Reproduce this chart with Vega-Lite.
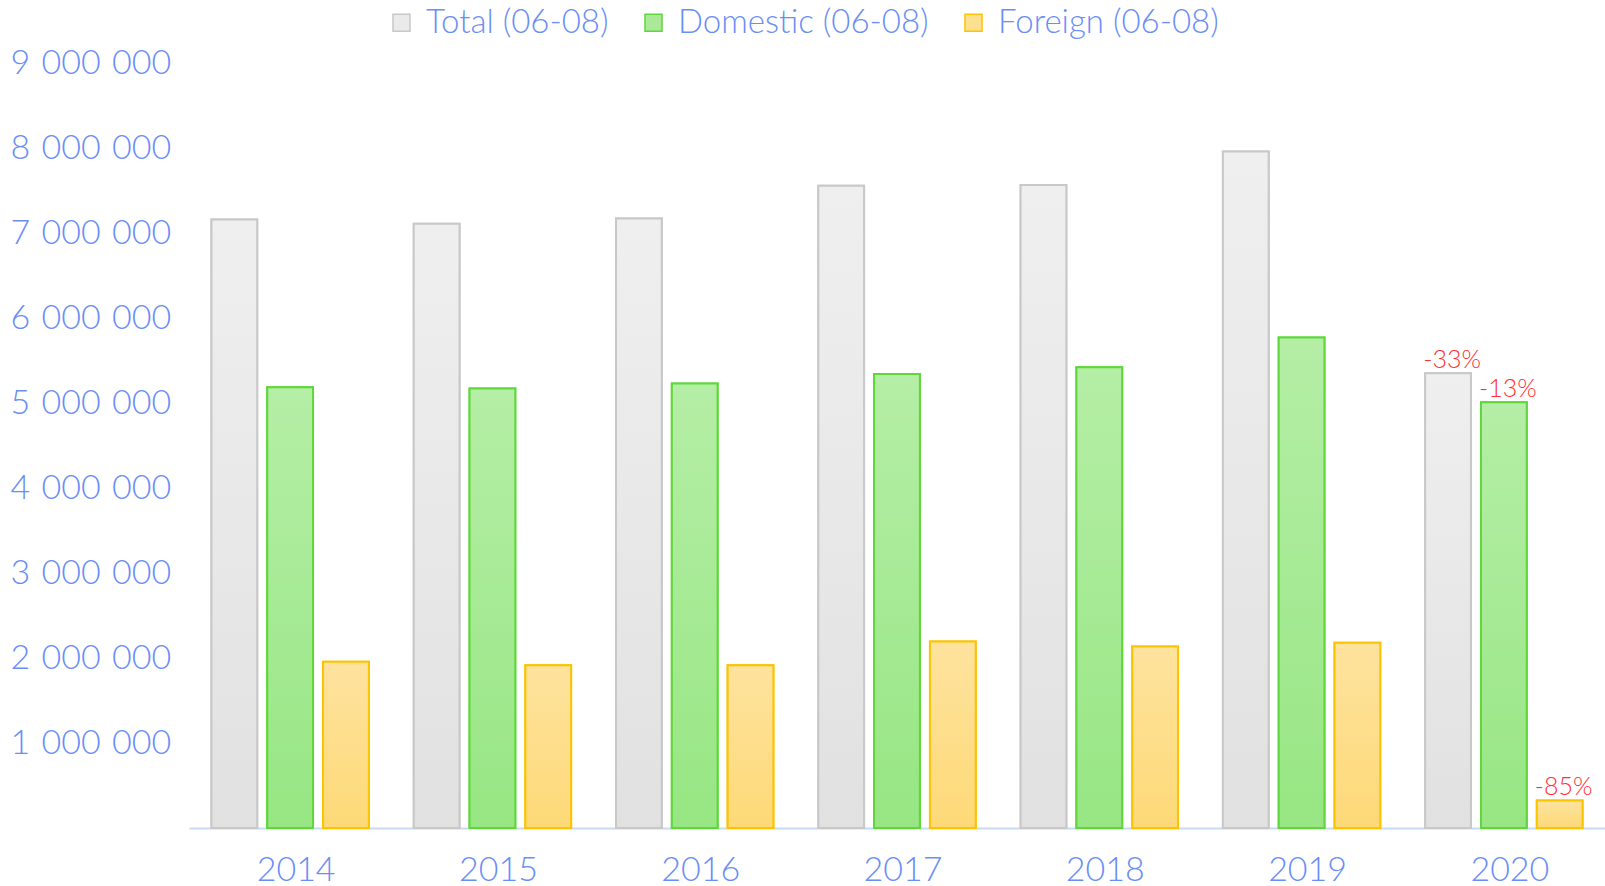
{
  "$schema": "https://vega.github.io/schema/vega-lite/v6.json",
  "width": 1416,
  "height": 765,
  "autosize": {"type": "none"},
  "padding": {"left": 189, "top": 63, "right": 0, "bottom": 58},
  "background": "white",
  "config": {"view": {"stroke": null}, "font": "Lato"},
  "datasets": {
    "bars": [
      {"year": "2014", "series": "Total (06-08)", "value": 7160000},
      {"year": "2014", "series": "Domestic (06-08)", "value": 5185000},
      {"year": "2014", "series": "Foreign (06-08)", "value": 1955000},
      {"year": "2015", "series": "Total (06-08)", "value": 7110000},
      {"year": "2015", "series": "Domestic (06-08)", "value": 5170000},
      {"year": "2015", "series": "Foreign (06-08)", "value": 1915000},
      {"year": "2016", "series": "Total (06-08)", "value": 7170000},
      {"year": "2016", "series": "Domestic (06-08)", "value": 5230000},
      {"year": "2016", "series": "Foreign (06-08)", "value": 1915000},
      {"year": "2017", "series": "Total (06-08)", "value": 7555000},
      {"year": "2017", "series": "Domestic (06-08)", "value": 5340000},
      {"year": "2017", "series": "Foreign (06-08)", "value": 2195000},
      {"year": "2018", "series": "Total (06-08)", "value": 7565000},
      {"year": "2018", "series": "Domestic (06-08)", "value": 5420000},
      {"year": "2018", "series": "Foreign (06-08)", "value": 2135000},
      {"year": "2019", "series": "Total (06-08)", "value": 7960000},
      {"year": "2019", "series": "Domestic (06-08)", "value": 5770000},
      {"year": "2019", "series": "Foreign (06-08)", "value": 2180000},
      {"year": "2020", "series": "Total (06-08)", "value": 5350000},
      {"year": "2020", "series": "Domestic (06-08)", "value": 5010000},
      {"year": "2020", "series": "Foreign (06-08)", "value": 325000}
    ],
    "labels": [
      {"year": "2020", "series": "Total (06-08)", "value": 5350000, "label": "-33%"},
      {"year": "2020", "series": "Domestic (06-08)", "value": 5010000, "label": "-13%"},
      {"year": "2020", "series": "Foreign (06-08)", "value": 325000, "label": "-85%"}
    ]
  },
  "data": {"name": "bars"},
  "encoding": {
    "x": {
      "field": "year", "type": "nominal",
      "scale": {"paddingInner": 0.222, "paddingOuter": 0.111},
      "axis": {
        "title": null, "labelAngle": 0, "ticks": false, "tickSize": 0,
        "domain": true, "domainColor": "#c9daf6", "domainWidth": 2,
        "labelFont": "Lato", "labelFontWeight": 300, "labelFontSize": 34,
        "labelColor": "#6a8ef6", "labelBaseline": "alphabetic", "labelPadding": 52,
        "labelOffset": 6, "grid": false
      }
    },
    "xOffset": {
      "field": "series", "type": "nominal",
      "scale": {"domain": ["Total (06-08)", "Domestic (06-08)", "Foreign (06-08)"], "paddingInner": 0.18, "paddingOuter": 0}
    },
    "y": {
      "field": "value", "type": "quantitative",
      "scale": {"domain": [0, 9000000], "nice": false, "zero": true},
      "axis": {
        "title": null, "grid": false, "domain": false, "ticks": false, "tickSize": 0,
        "values": [1000000, 2000000, 3000000, 4000000, 5000000, 6000000, 7000000, 8000000, 9000000],
        "labelExpr": "replace(replace(format(datum.value, ','), ',', '\u2004'), ',', '\u2004')",
        "labelAlign": "left", "labelPadding": 179, "labelBaseline": "middle",
        "labelFont": "Lato", "labelFontWeight": 300, "labelFontSize": 34, "labelColor": "#6a8ef6"
      }
    }
  },
  "layer": [
    {
      "mark": {"type": "bar", "strokeWidth": 2},
      "encoding": {
        "fill": {
          "field": "series", "type": "nominal",
          "scale": {"domain": ["Total (06-08)", "Domestic (06-08)", "Foreign (06-08)"], "range": ["#eaeaea", "#a9e998", "#fde08f"]},
          "legend": {
            "title": null, "orient": "none", "direction": "horizontal",
            "legendX": 196, "legendY": -57,
            "symbolType": "square", "symbolSize": 290, "symbolStrokeWidth": 1.5,
            "labelFont": "Lato", "labelFontWeight": 300, "labelFontSize": 33, "labelColor": "#6a8ef6",
            "labelLimit": 500, "labelOffset": 8, "columnPadding": 28, "symbolOpacity": 1
          }
        },
        "stroke": {
          "field": "series", "type": "nominal",
          "scale": {"domain": ["Total (06-08)", "Domestic (06-08)", "Foreign (06-08)"], "range": ["#c8c8c8", "#5fd73a", "#fbc300"]}
        }
      }
    },
    {
      "transform": [{"filter": "datum.series === 'Total (06-08)'"}],
      "mark": {
        "type": "bar", "strokeWidth": 2, "stroke": "#c8c8c8",
        "fill": {"gradient": "linear", "x1": 0, "y1": 0, "x2": 0, "y2": 1, "stops": [{"offset": 0, "color": "#efefef"}, {"offset": 1, "color": "#e1e1e1"}]}
      }
    },
    {
      "transform": [{"filter": "datum.series === 'Domestic (06-08)'"}],
      "mark": {
        "type": "bar", "strokeWidth": 2, "stroke": "#5fd73a",
        "fill": {"gradient": "linear", "x1": 0, "y1": 0, "x2": 0, "y2": 1, "stops": [{"offset": 0, "color": "#b5eea6"}, {"offset": 1, "color": "#97e683"}]}
      }
    },
    {
      "transform": [{"filter": "datum.series === 'Foreign (06-08)'"}],
      "mark": {
        "type": "bar", "strokeWidth": 2, "stroke": "#fbc300",
        "fill": {"gradient": "linear", "x1": 0, "y1": 0, "x2": 0, "y2": 1, "stops": [{"offset": 0, "color": "#fee39e"}, {"offset": 1, "color": "#fdd977"}]}
      }
    },
    {
      "data": {"name": "labels"},
      "mark": {"type": "text", "font": "Lato", "fontWeight": 300, "fontSize": 25, "color": "#ff3030", "baseline": "alphabetic", "dy": -5, "dx": 4},
      "encoding": {"text": {"field": "label", "type": "nominal"}}
    }
  ]
}
